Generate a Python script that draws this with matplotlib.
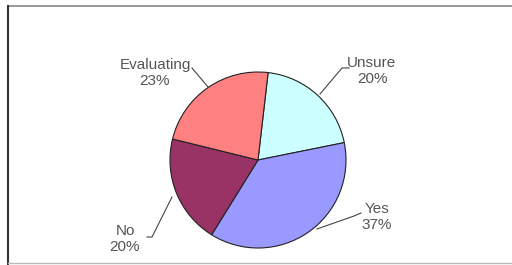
import matplotlib.pyplot as plt
from matplotlib.lines import Line2D

labels = ["Unsure", "Yes", "No", "Evaluating"]
values = [20, 37, 20, 23]
colors = ["#CCFFFF", "#9999FF", "#993366", "#FF8080"]

# label text positions (pixel coords from top-left) and leader line points
label_pos = {
    "Unsure": (372, 71),
    "Yes": (377, 217),
    "No": (125, 239),
    "Evaluating": (155, 73),
}
leaders = {
    "Unsure": [(349, 68), (342, 68), (320, 94)],
    "Yes": [(361, 213), (354, 216), (317, 229)],
    "No": [(147, 237), (152, 237), (172, 197)],
    "Evaluating": [(192, 68), (208, 87)],
}

W, H = 512, 265
fig = plt.figure(figsize=(W / 100, H / 100), dpi=100)
plt.rcParams["font.family"] = ["Liberation Sans", "DejaVu Sans"]

cx, cy, r = 258, 160, 88
ax = fig.add_axes([(cx - r) / W, 1 - (cy + r) / H, 2 * r / W, 2 * r / H])
ax.pie(values, colors=colors, startangle=83.4, counterclock=False,
       wedgeprops=dict(edgecolor="#222222", linewidth=0.8))
ax.set_aspect("auto")
ax.set_xlim(-1, 1)
ax.set_ylim(-1, 1)
ax.axis("off")


def px(x, y):
    return x / W, 1 - y / H


for lab, v in zip(labels, values):
    x, y = label_pos[lab]
    fig.text(*px(x, y), f"{lab}\n{v}%", ha="center", va="center",
             fontsize=11, color="#555555", linespacing=1.2)
    pts = [px(a, b) for a, b in leaders[lab]]
    fig.add_artist(Line2D([p[0] for p in pts], [p[1] for p in pts],
                          color="#444444", linewidth=0.8))

# frame lines
fig.add_artist(Line2D([7.5 / W, 1], [1 - 6 / H, 1 - 6 / H], color="#888888", linewidth=1.2))
fig.add_artist(Line2D([7.5 / W, 7.5 / W], [0, 1 - 6 / H], color="#333333", linewidth=1.5))
fig.add_artist(Line2D([7.5 / W, 1], [1 - 263 / H, 1 - 263 / H], color="#BBBBBB", linewidth=1.0))

fig.savefig("out.png", dpi=100)
